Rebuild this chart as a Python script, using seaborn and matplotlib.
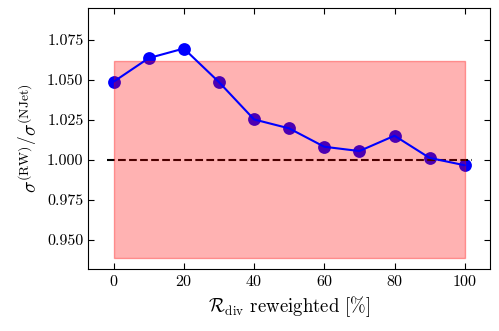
import numpy as np
import pandas as pd
import seaborn as sns
import matplotlib
matplotlib.use("Agg")
import matplotlib.pyplot as plt

# fraction of R_div reweighted (%) and cross-section ratio
frac = [0, 10, 20, 30, 40, 50, 60, 70, 80, 90, 100]
ratio = [1.0488, 1.0636, 1.0696, 1.0486, 1.0252, 1.0196, 1.0081, 1.0054, 1.0150, 1.0011, 0.9965]
band_lo = 0.9383
band_hi = 1.0617

sns.set_style("ticks")
plt.rcParams["font.family"] = "serif"
plt.rcParams["font.serif"] = ["cmr10", "DejaVu Serif"]
plt.rcParams["mathtext.fontset"] = "cm"
plt.rcParams["axes.formatter.use_mathtext"] = True

df = pd.DataFrame({"frac": frac, "ratio": ratio})

fig, ax = plt.subplots(figsize=(4.99, 3.31), dpi=100)
# markers sit under the band, the connecting line on top
sns.scatterplot(data=df, x="frac", y="ratio", color="blue", s=85,
                linewidth=0, zorder=2, ax=ax)
ax.hlines(1.0, -2, 102, colors="black", linestyles="--", linewidth=1.5, zorder=2)
ax.fill_between([frac[0], frac[-1]], band_lo, band_hi, facecolor=(1, 0, 0, 0.3),
                edgecolor=(1, 0, 0, 0.35), linewidth=1, zorder=3)
sns.lineplot(data=df, x="frac", y="ratio", color="blue", linewidth=1.5,
             zorder=4, ax=ax)

ax.set_xlim(-7.2, 107.2)
ax.set_ylim(0.9315, 1.095)
ax.set_xticks([0, 20, 40, 60, 80, 100])
yt = [0.950, 0.975, 1.000, 1.025, 1.050, 1.075]
ax.set_yticks(yt)
ax.set_yticklabels([f"{v:.3f}" for v in yt])
ax.tick_params(direction="in", top=True, right=True, labelsize=11.5, length=4,
               color="black", labelcolor="black")
for s in ax.spines.values():
    s.set_color("black")
ax.set_xlabel(r"$\mathcal{R}_{\mathrm{div}}$ reweighted [%]", fontsize=13.5, color="black")
ax.set_ylabel(r"$\sigma^{(\mathrm{RW})}\left/\sigma^{(\mathrm{NJet})}\right.$", fontsize=14, color="black")

fig.subplots_adjust(left=0.177, right=0.982, top=0.976, bottom=0.187)
fig.savefig("out.png", dpi=100)
